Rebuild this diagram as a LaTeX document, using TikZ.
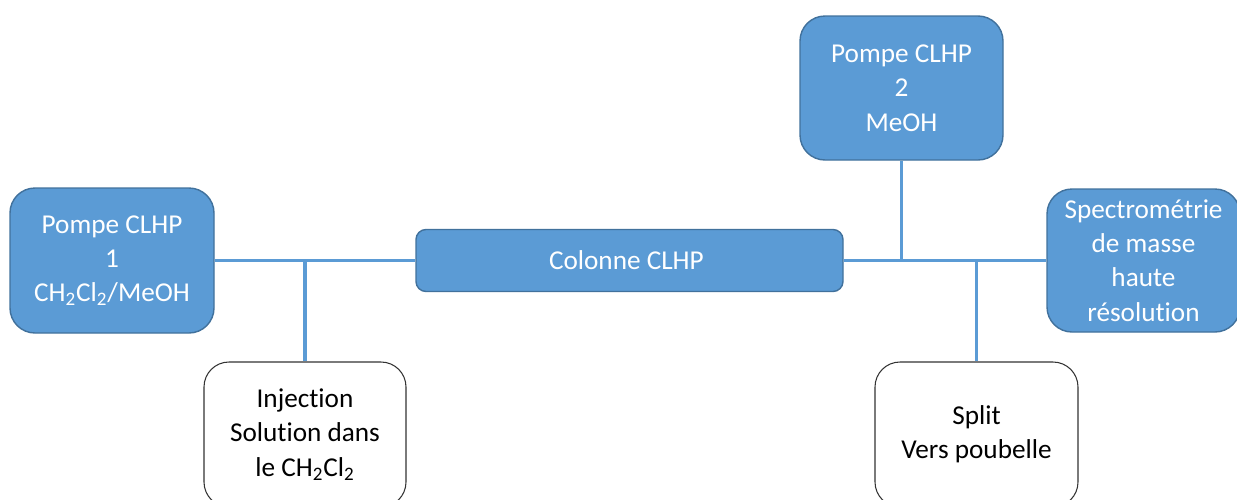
\documentclass[tikz,border=0pt]{standalone}
\usepackage{fontspec}
\setmainfont{Carlito}[RawFeature={-liga;-clig;-dlig}]
\usetikzlibrary{
    positioning,
    calc
}
\definecolor{hplcblue}{HTML}{5B9BD5}
\definecolor{hplcedge}{HTML}{41719C}
\tikzset{
    % --- Instrument block (blue, rounded) ---
    instrument/.style = {
        rectangle, rounded corners=0.5cm, draw=hplcedge, thick,
        fill=hplcblue, text=white, align=center,
        font=\fontsize{15.5}{19.5}\selectfont
    },
    % --- Side block (white, rounded) ---
    side block/.style = {
        rectangle, rounded corners=0.5cm, draw=black!80, semithick,
        fill=white, text=black, align=center,
        font=\fontsize{15.5}{19.5}\selectfont
    },
    % --- Tubing between blocks ---
    tube/.style = {
        draw=hplcblue, line width=2pt
    }
}

\begin{document}
\begin{tikzpicture}

\useasboundingbox (0,0) rectangle (24.74,-9.98);

% ---------------------------------------------------------
% Main line: pump 1, column, detector
% ---------------------------------------------------------
\node[instrument, minimum width=4.08cm, minimum height=2.9cm] (Pump1) at (2.24, -5.21) {%
    Pompe CLHP\\
    1\\
    CH\textsubscript{2}Cl\textsubscript{2}/MeOH
};

\node[instrument, rounded corners=0.2cm, minimum width=8.54cm, minimum height=1.24cm] (Column) at (12.59, -5.21) {%
    Colonne CLHP
};

\node[instrument, minimum width=3.86cm, minimum height=2.86cm] (MS) at (22.87, -5.21) {%
    Spectrométrie\\
    de masse\\
    haute\\
    résolution
};

% ---------------------------------------------------------
% Second pump (top)
% ---------------------------------------------------------
\node[instrument, minimum width=4.06cm, minimum height=2.88cm] (Pump2) at (18.03, -1.76) {%
    Pompe CLHP\\
    2\\
    MeOH
};

% ---------------------------------------------------------
% Injection and split (bottom)
% ---------------------------------------------------------
\node[side block, minimum width=4.04cm, minimum height=2.9cm] (Inject) at (6.10, -8.69) {%
    Injection\\
    Solution dans\\
    le CH\textsubscript{2}Cl\textsubscript{2}
};

\node[side block, minimum width=4.06cm, minimum height=2.9cm] (Split) at (19.53, -8.69) {%
    Split\\
    Vers poubelle
};

% ---------------------------------------------------------
% Tubing
% ---------------------------------------------------------
\draw[tube] (Pump1.east) -- (Column.west);
\draw[tube] (Inject.north) -- (Inject.north |- Pump1.east);

\draw[tube] (Column.east) -- (MS.west);
\draw[tube] (Pump2.south) -- (Pump2.south |- Column.east);
\draw[tube] (Split.north) -- (Split.north |- Column.east);

\end{tikzpicture}
\end{document}
